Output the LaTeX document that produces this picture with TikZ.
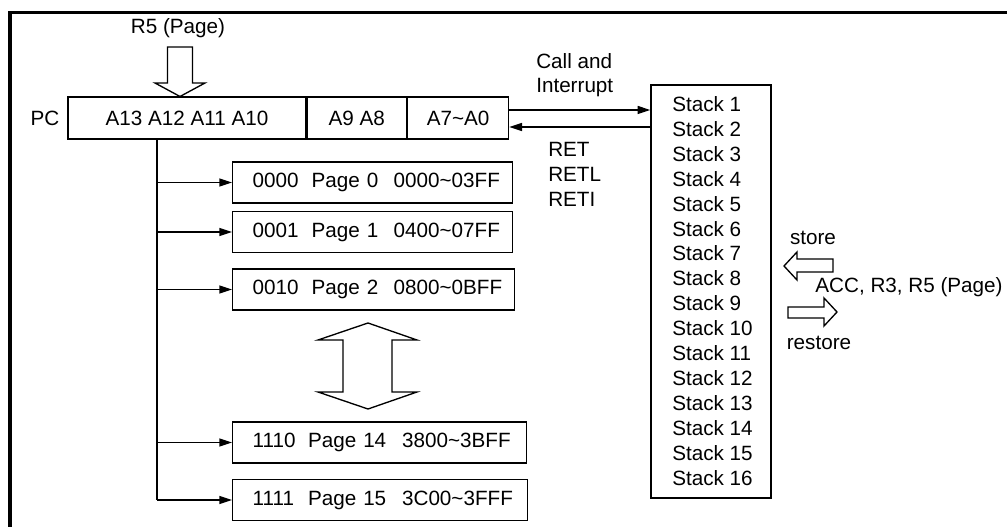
\documentclass[tikz,border=0pt]{standalone}
\usepackage{fontspec}
\setmainfont{Liberation Sans}
\usetikzlibrary{positioning,arrows.meta}
\newcommand{\diagfont}{\fontsize{15.5pt}{18.5pt}\selectfont}
\newcommand{\pg}[5]{\makebox[#1][l]{#3}\makebox[#2][l]{#4}#5}
\tikzset{
	field/.style={draw, line width=1pt, minimum height=31.5pt, inner sep=0pt},
	pagebox/.style={draw, line width=1pt, anchor=west, minimum height=30.75pt, inner xsep=15pt, inner ysep=0pt, text width=#1, align=left},
	lbl/.style={inner sep=0pt},
	arr/.style={-{Triangle[length=9.5pt,width=6pt]}, line width=1pt},
	hollow/.style={line width=1pt, line join=miter},
}
\begin{document}
\begin{tikzpicture}[x=0.75pt, y=-0.75pt, every node/.style={font=\diagfont}]
	\useasboundingbox (0,0) rectangle (1007,527);
	\draw[line width=2.5pt] (10,527) |- (1007,12.5);

	% program counter
	\node[field, minimum width=178.5pt] (hi) at (187,118) {A13 A12 A11 A10};
	\node[field, minimum width=74.25pt, right=0pt of hi] (mid) {A9 A8};
	\node[field, minimum width=75.75pt, right=0pt of mid] (lo) {A7\textasciitilde A0};
	\node[lbl] (pc) at (45,118) {PC};

	\node[lbl] (r5) at (178,28) {R5 (Page)};
	\draw[hollow] (167.5,47) -- (192.5,47) -- (192.5,83) -- (205,83) -- (180,96.5)
		-- (155,83) -- (167.5,83) -- cycle;

	% stack
	\node[draw, line width=1pt, minimum width=90pt, minimum height=309.75pt] (stk) at (711,291.5) {};
	\foreach \i in {1,...,16}
		\node[lbl, anchor=west] (s\i) at (672,{104+24.93*(\i-1)}) {Stack \i};

	\coordinate (call) at ([yshift=6pt]lo.east);
	\coordinate (ret) at ([yshift=-6.75pt]lo.east);
	\draw[arr] (call) -- (call -| stk.west);
	\draw[arr] (ret -| stk.west) -- (ret);
	\node[lbl, anchor=west, align=left] (cal) at (536,75) {Call and\\Interrupt};
	\node[lbl, anchor=west, align=left] (rets) at (548,174.5) {RET\\RETL\\RETI};

	% pages
	\node[pagebox=180pt] (p0) at (232,182.5) {\pg{44.25pt}{61.5pt}{0000}{Page 0}{0000\textasciitilde 03FF}};
	\node[pagebox=180pt] (p1) at (232,232) {\pg{44.25pt}{61.5pt}{0001}{Page 1}{0400\textasciitilde 07FF}};
	\node[pagebox=181.5pt] (p2) at (232,289.5) {\pg{44.25pt}{61.5pt}{0010}{Page 2}{0800\textasciitilde 0BFF}};
	\node[pagebox=190.5pt] (p14) at (232,442.5) {\pg{41.6pt}{70.5pt}{1110}{Page 14}{3800\textasciitilde 3BFF}};
	\node[pagebox=191.25pt] (p15) at (232,500) {\pg{41.6pt}{70.5pt}{1111}{Page 15}{3C00\textasciitilde 3FFF}};

	\coordinate (tr) at ([xshift=-22.5pt]hi.south);
	\draw[line width=1pt] (tr) -- (tr |- p15.west);
	\foreach \p in {p0,p1,p2,p14,p15}
		\draw[arr] (tr |- \p.west) -- (\p.west);

	\draw[hollow] (368,323) -- (417,340) -- (392,340) -- (392,392) -- (417,392) -- (368,409)
		-- (318,392) -- (343,392) -- (343,340) -- (318,340) -- cycle;

	% store / restore
	\draw[hollow] (784,266) -- (797,252) -- (797,259) -- (833,259) -- (833,272) -- (797,272)
		-- (797,280) -- cycle;
	\draw[hollow] (837,312) -- (824,298) -- (824,307) -- (788,307) -- (788,318) -- (824,318)
		-- (824,326) -- cycle;
	\node[lbl] (st) at (813,238) {store};
	\node[lbl] (regs) at (909,287) {ACC, R3, R5 (Page)};
	\node[lbl] (rs) at (819,343) {restore};
\end{tikzpicture}
\end{document}
